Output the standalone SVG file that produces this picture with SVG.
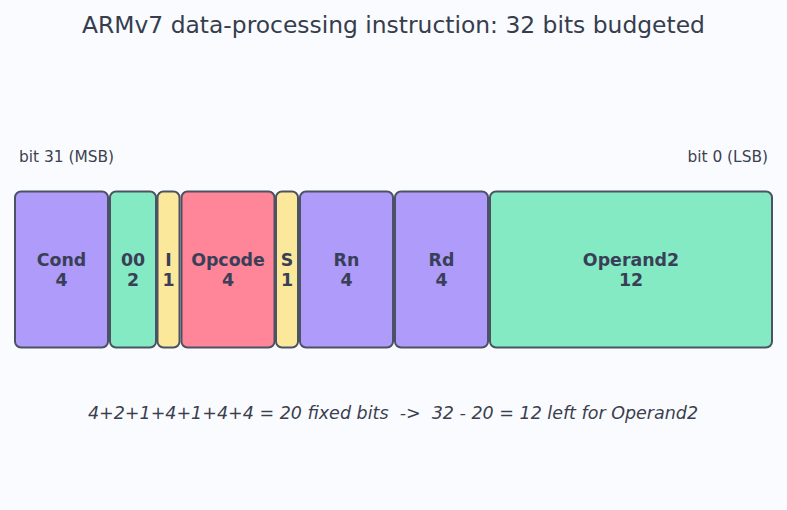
<svg xmlns="http://www.w3.org/2000/svg" width="787" height="510" viewBox="0 0 787 510">
<style>
.f{stroke:#4a5263;stroke-width:2}
.p{fill:#af9bf9}.g{fill:#84eac3}.y{fill:#fce89b}.r{fill:#ff8599}
.l{font-family:"DejaVu Sans",sans-serif;font-size:17.4px;font-weight:bold;fill:#3a3f58;text-anchor:middle}
.s{font-family:"DejaVu Sans",sans-serif;font-size:15.4px;fill:#3a4150}
</style>
<rect width="787" height="510" fill="#fafbfe"/>
<text x="393.5" y="33" font-family="DejaVu Sans, sans-serif" font-size="23.4" fill="#363d4c" text-anchor="middle">ARMv7 data-processing instruction: 32 bits budgeted</text>
<text class="s" x="19" y="162">bit 31 (MSB)</text>
<text class="s" x="768" y="162" text-anchor="end">bit 0 (LSB)</text>
<g id="cond"><rect class="f p" x="15" y="191.5" width="93" height="156" rx="6"/><text class="l" x="61.5" y="265.5">Cond</text><text class="l" x="61.5" y="285.5">4</text></g>
<g id="f00"><rect class="f g" x="110" y="191.5" width="46" height="156" rx="6"/><text class="l" x="133" y="265.5">00</text><text class="l" x="133" y="285.5">2</text></g>
<g id="i"><rect class="f y" x="157.5" y="191.5" width="22" height="156" rx="6"/><text class="l" x="168.5" y="265.5">I</text><text class="l" x="168.5" y="285.5">1</text></g>
<g id="opcode"><rect class="f r" x="181.5" y="191.5" width="93" height="156" rx="6"/><text class="l" x="228" y="265.5">Opcode</text><text class="l" x="228" y="285.5">4</text></g>
<g id="s"><rect class="f y" x="276" y="191.5" width="22" height="156" rx="6"/><text class="l" x="287" y="265.5">S</text><text class="l" x="287" y="285.5">1</text></g>
<g id="rn"><rect class="f p" x="300" y="191.5" width="93" height="156" rx="6"/><text class="l" x="346.5" y="265.5">Rn</text><text class="l" x="346.5" y="285.5">4</text></g>
<g id="rd"><rect class="f p" x="395" y="191.5" width="93" height="156" rx="6"/><text class="l" x="441.5" y="265.5">Rd</text><text class="l" x="441.5" y="285.5">4</text></g>
<g id="operand2"><rect class="f g" x="490" y="191.5" width="282" height="156" rx="6"/><text class="l" x="631" y="265.5">Operand2</text><text class="l" x="631" y="285.5">12</text></g>
<g id="connectors"></g>
<text x="393" y="419" font-family="DejaVu Sans, sans-serif" font-size="17.5" font-style="italic" fill="#3a3f4e" text-anchor="middle" xml:space="preserve">4+2+1+4+1+4+4 = 20 fixed bits  -&gt;  32 - 20 = 12 left for Operand2</text>
</svg>
